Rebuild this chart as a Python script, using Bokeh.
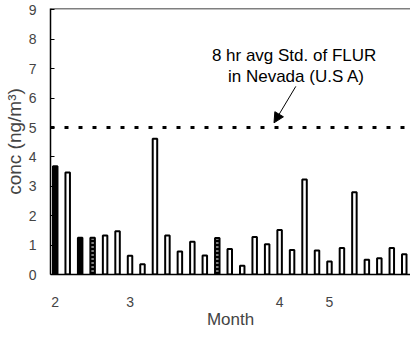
from bokeh.plotting import figure
from bokeh.models import (ColumnDataSource, FixedTicker, Span, Label, Arrow,
                          NormalHead, Range1d)
from bokeh.embed import file_html
from bokeh.resources import INLINE

# ---------------- data ----------------
conc = [3.68, 3.47, 1.25, 1.25, 1.33, 1.47, 0.64, 0.35, 4.62, 1.33,
        0.78, 1.11, 0.65, 1.24, 0.87, 0.30, 1.28, 1.03, 1.51, 0.83,
        3.23, 0.82, 0.44, 0.90, 2.80, 0.50, 0.55, 0.90, 0.69]
sample = list(range(len(conc)))
month_tick_index = [0, 6, 18, 22]
month_labels = ["2", "3", "4", "5"]
standard_value = 5.0
y_ticks = [0, 1, 2, 3, 4, 5, 6, 7, 8, 9]
y_top = 9.05

# ---------------- styling ----------------
FONT = "Liberation Sans"
BLACK_BARS = {0, 2}
HATCH_BARS = {3, 13}

fills, hatches = [], []
for i in sample:
    if i in BLACK_BARS:
        fills.append("black"); hatches.append(" ")
    elif i in HATCH_BARS:
        fills.append("black"); hatches.append("horizontal_line")
    else:
        fills.append("white"); hatches.append(" ")

src = ColumnDataSource(dict(x=sample, top=conc, fill=fills, hatch=hatches))

p = figure(width=410, height=331, output_backend="svg", toolbar_location=None,
           x_range=Range1d(-0.38, 28.5), y_range=Range1d(0, y_top),
           min_border_left=46, min_border_right=0, min_border_top=8,
           min_border_bottom=51)
p.outline_line_color = None
p.grid.visible = False
p.background_fill_color = "white"

p.vbar(x="x", top="top", bottom=0, width=0.36, source=src,
       fill_color="fill", line_color="black", line_width=2,
       hatch_pattern="hatch", hatch_color="white", hatch_scale=4,
       hatch_weight=1)

# standard line
p.add_layout(Span(location=standard_value, dimension="width",
                  line_color="black", line_width=3, line_dash="4 10"))
# top border
p.add_layout(Span(location=y_top, dimension="width", line_color="black",
                  line_width=1.5))

# annotation
p.add_layout(Label(x=19.35, y=7.45, text="8 hr avg  Std. of FLUR",
                   text_align="center", text_baseline="middle",
                   text_font=FONT, text_font_size="17px", text_color="black"))
p.add_layout(Label(x=19.35, y=6.75, text="in Nevada (U.S A)",
                   text_align="center", text_baseline="middle",
                   text_font=FONT, text_font_size="17px", text_color="black"))
p.add_layout(Arrow(end=NormalHead(size=10, fill_color="black",
                                  line_color="black"),
                   x_start=19.3, y_start=6.4, x_end=17.55, y_end=5.16,
                   line_color="black", line_width=1))

# axes
xa = p.xaxis[0]
xa.ticker = FixedTicker(ticks=month_tick_index)
xa.major_label_overrides = {i: l for i, l in zip(month_tick_index, month_labels)}
xa.major_tick_line_color = None
xa.minor_tick_line_color = None
xa.axis_line_width = 1.5
xa.major_label_standoff = 16
xa.major_label_text_font = FONT
xa.major_label_text_font_size = "14px"
xa.axis_label = "Month"
xa.axis_label_text_font = FONT
xa.axis_label_text_font_style = "normal"
xa.axis_label_text_font_size = "17px"
xa.axis_label_standoff = 0

ya = p.yaxis[0]
ya.ticker = FixedTicker(ticks=y_ticks)
ya.major_tick_in = 4
ya.major_tick_out = 0
ya.minor_tick_line_color = None
ya.axis_line_width = 1.5
ya.major_label_standoff = 14
ya.major_label_text_font = FONT
ya.major_label_text_font_size = "14px"
ya.axis_label = "conc (ng/m³)"
ya.axis_label_text_font = FONT
ya.axis_label_text_font_style = "normal"
ya.axis_label_text_font_size = "19px"
ya.axis_label_standoff = 1

open("out.html", "w").write(file_html(p, INLINE))
